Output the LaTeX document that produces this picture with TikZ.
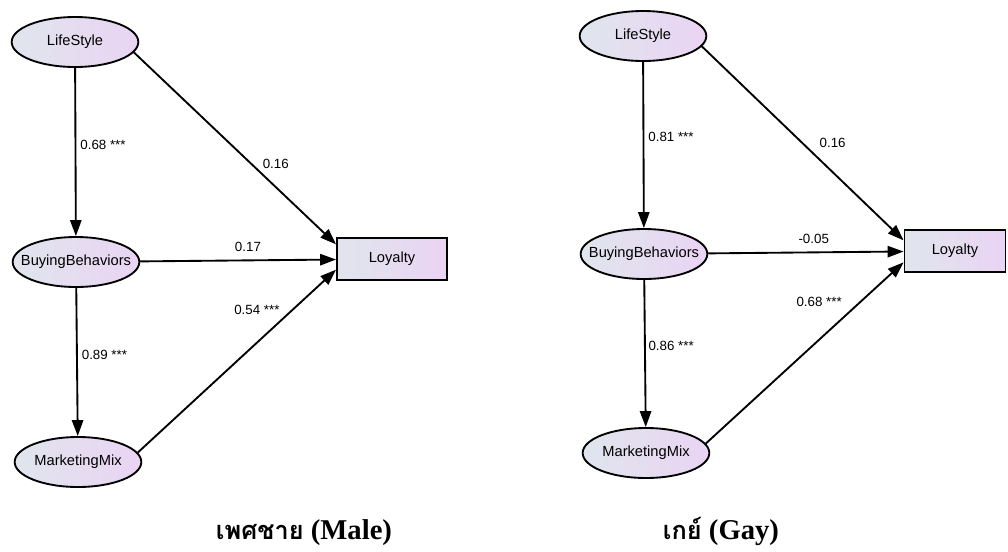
\documentclass[tikz,border=0pt]{standalone}
\usepackage{fontspec}
\setmainfont{Liberation Serif}
\setsansfont{Liberation Sans}
\newfontfamily\thaifont[Script=Thai]{Loma}
\usepackage{xcolor}
\usepackage{tikz}
\usetikzlibrary{shapes.geometric,arrows.meta}
\definecolor{semleft}{RGB}{224,229,237}
\definecolor{semright}{RGB}{234,212,243}

\begin{document}
\begin{tikzpicture}[x=0.75pt,y=-0.75pt]
    \tikzstyle{latent} = [ellipse, draw, line width=1.4pt, left color=semleft, right color=semright, minimum width=95pt, minimum height=37.5pt, inner xsep=-8pt, inner ysep=0pt, font=\sffamily\fontsize{11}{13}\selectfont]
    \tikzstyle{observed} = [rectangle, draw, line width=1.4pt, left color=semleft, right color=semright, minimum width=82.5pt, minimum height=31.5pt, font=\sffamily\fontsize{11}{13}\selectfont]
    \tikzstyle{effect} = [-{Triangle[length=12pt,width=8.5pt]}, line width=1.4pt]
    \tikzstyle{coef} = [inner sep=1pt, font=\sffamily\fontsize{10}{12}\selectfont]
    \tikzstyle{grouptitle} = [anchor=base, inner sep=0pt, font=\bfseries\fontsize{21.5}{24}\selectfont]
    \useasboundingbox (0,0) rectangle (1008,551);
    % Male
    \node [latent] (LS1) at (75,42) {LifeStyle};
    \node [latent] (BB1) at (76,262) {BuyingBehaviors};
    \node [latent] (MM1) at (78,462) {MarketingMix};
    \node [observed] (Loy1) at (392,259) {Loyalty};
    \draw [effect] (LS1) -- (BB1) node [coef, pos=0.46, right=2pt] {0.68 ***};
    \draw [effect] (BB1) -- (MM1) node [coef, pos=0.45, right=2pt] {0.89 ***};
    \draw [effect] (LS1.-10) -- ([yshift=11pt]Loy1.west) node [coef, pos=0.58, right=7pt] {0.16};
    \draw [effect] (BB1) -- (Loy1) node [coef, pos=0.55, above=5pt] {0.17};
    \draw [effect] (MM1.9) -- ([yshift=-8pt]Loy1.west) node [coef, pos=0.78, left=8pt] {0.54 ***};
    \node [grouptitle] (T1) at (304,539) {{\thaifont\fontsize{19}{24}\selectfont เพศชาย} (Male)};
    % Gay
    \node [latent] (LS2) at (643,36) {LifeStyle};
    \node [latent] (BB2) at (644,254) {BuyingBehaviors};
    \node [latent] (MM2) at (646,453) {MarketingMix};
    \node [observed, minimum width=75.75pt] (Loy2) at (955,251) {Loyalty};
    \draw [effect] (LS2) -- (BB2) node [coef, pos=0.45, right=2pt] {0.81 ***};
    \draw [effect] (BB2) -- (MM2) node [coef, pos=0.45, right=1pt] {0.86 ***};
    \draw [effect] (LS2.-10) -- ([yshift=8pt]Loy2.west) node [coef, pos=0.5, right=11pt] {0.16};
    \draw [effect] (BB2) -- (Loy2) node [coef, pos=0.54, above=5pt] {-0.05};
    \draw [effect] (MM2.9) -- ([yshift=-8.5pt]Loy2.west) node [coef, pos=0.78, left=12pt] {0.68 ***};
    \node [grouptitle] (T2) at (721,539) {{\thaifont\fontsize{19}{24}\selectfont เกย์} (Gay)};
\end{tikzpicture}
\end{document}
